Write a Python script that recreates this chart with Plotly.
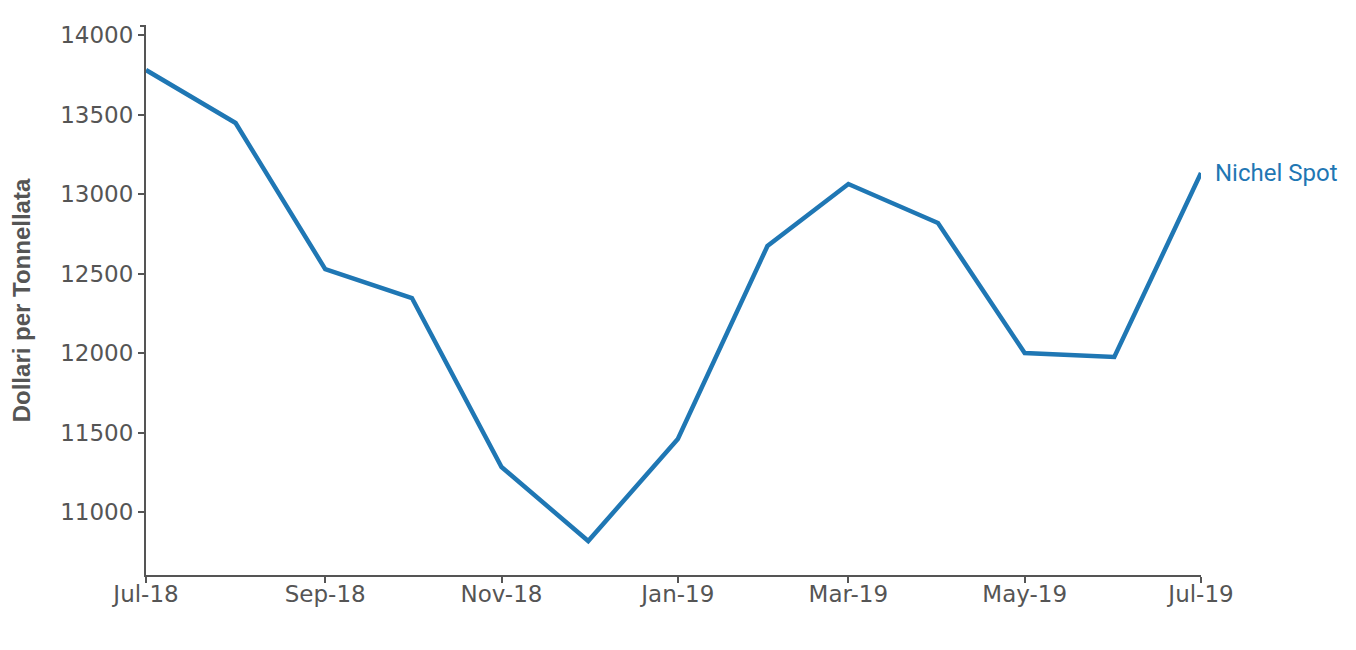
import plotly.graph_objects as go

months = [
    "2018-07-01", "2018-08-01", "2018-09-01", "2018-10-01", "2018-11-01",
    "2018-12-01", "2019-01-01", "2019-02-01", "2019-03-01", "2019-04-01",
    "2019-05-01", "2019-06-01", "2019-07-01",
]
nickel_spot = [
    13780, 13447, 12528, 12346, 11283,
    10818, 11459, 12673, 13063, 12818,
    12000, 11975, 13132,
]
series_name = "Nichel Spot"
y_title = "Dollari per Tonnellata"
y_ticks = [11000, 11500, 12000, 12500, 13000, 13500, 14000]

axis_color = "#555555"
line_color = "#1f77b4"

fig = go.Figure(
    go.Scatter(
        x=months,
        y=nickel_spot,
        mode="lines",
        line={"color": line_color, "width": 4.5},
        hoverinfo="x+y",
    )
)

# series label at the end of the line
fig.add_annotation(
    x=months[-1], y=nickel_spot[-1],
    text=series_name, showarrow=False,
    xanchor="left", yanchor="middle", xshift=12,
    font={"family": "Roboto", "size": 24, "color": line_color},
)

# d3-like outer tick at top of the y axis
fig.add_shape(
    type="line", xref="paper", yref="paper",
    x0=-0.0057, x1=0, y0=1, y1=1,
    line={"color": axis_color, "width": 2},
)

# the page body adds 8px, so margins are shifted to compensate
fig.update_layout(
    width=1356, height=650,
    margin={"l": 138, "r": 163, "t": 18, "b": 83, "autoexpand": False},
    paper_bgcolor="white", plot_bgcolor="white",
    showlegend=False,
    font={"family": "DejaVu Sans", "size": 23, "color": axis_color},
    xaxis={
        "type": "date",
        "range": ["2018-07-01", "2019-07-01"],
        "dtick": "M2",
        "tick0": "2018-07-01",
        "tickformat": "%b-%y",
        "ticks": "outside", "ticklen": 6, "tickwidth": 2, "tickcolor": axis_color,
        "ticklabelstandoff": -9,
        "showline": True, "linecolor": axis_color, "linewidth": 2,
        "showgrid": False, "zeroline": False,
        "tickfont": {"family": "DejaVu Sans", "size": 23, "color": axis_color},
    },
    yaxis={
        "range": [10604, 14057],
        "tickvals": y_ticks,
        "tickformat": "d",
        "ticks": "outside", "ticklen": 6, "tickwidth": 2, "tickcolor": axis_color,
        "showline": True, "linecolor": axis_color, "linewidth": 2,
        "showgrid": False, "zeroline": False,
        "tickfont": {"family": "DejaVu Sans", "size": 23, "color": axis_color},
        "title": {
            "text": "<b>" + y_title + "</b>",
            "font": {"family": "Liberation Sans", "size": 24, "color": axis_color},
            "standoff": 29,
        },
    },
)

fig.write_html("out.html")
